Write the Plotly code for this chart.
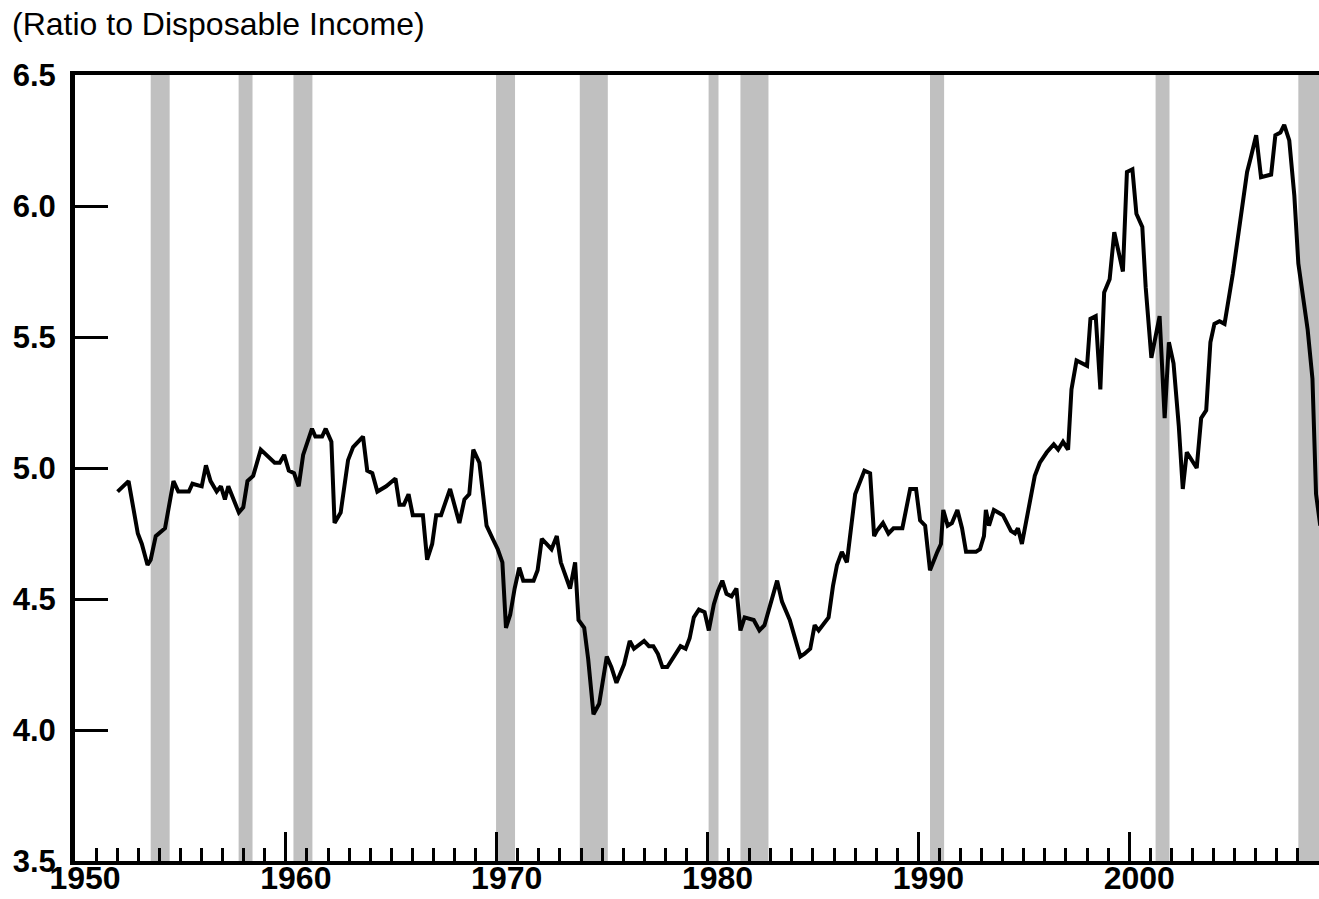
import plotly.graph_objects as go

# household net worth relative to disposable income
years = [
    1952.02, 1952.54, 1952.98, 1953.17, 1953.44, 1953.59, 1953.83, 1954.27, 1954.67, 1954.90,
    1955.40, 1955.57, 1956.01, 1956.21, 1956.43, 1956.72, 1956.92, 1957.11, 1957.27, 1957.51,
    1957.77, 1957.98, 1958.18, 1958.45, 1958.81, 1959.47, 1959.71, 1959.92, 1960.14, 1960.39,
    1960.61, 1960.82, 1961.24, 1961.40, 1961.72, 1961.89, 1962.16, 1962.31, 1962.60, 1962.95,
    1963.19, 1963.66, 1963.86, 1964.10, 1964.34, 1964.76, 1965.20, 1965.39, 1965.60, 1965.82,
    1966.02, 1966.50, 1966.70, 1966.94, 1967.13, 1967.36, 1967.79, 1968.23, 1968.47, 1968.70,
    1968.89, 1969.18, 1969.52, 1969.81, 1970.05, 1970.27, 1970.44, 1970.64, 1970.85, 1971.07,
    1971.26, 1971.75, 1971.94, 1972.14, 1972.60, 1972.85, 1973.04, 1973.48, 1973.72, 1973.88,
    1974.15, 1974.34, 1974.59, 1974.86, 1975.22, 1975.44, 1975.68, 1976.04, 1976.31, 1976.51,
    1976.99, 1977.22, 1977.43, 1977.65, 1977.86, 1978.09, 1978.33, 1978.72, 1978.96, 1979.15,
    1979.35, 1979.59, 1979.86, 1980.06, 1980.30, 1980.49, 1980.70, 1980.90, 1981.14, 1981.37,
    1981.56, 1981.76, 1982.19, 1982.46, 1982.70, 1983.30, 1983.53, 1983.90, 1984.40, 1984.59,
    1984.87, 1985.08, 1985.27, 1985.74, 1985.95, 1986.14, 1986.37, 1986.61, 1987.00, 1987.44,
    1987.71, 1987.90, 1988.03, 1988.32, 1988.58, 1988.82, 1989.24, 1989.61, 1989.89, 1990.08,
    1990.32, 1990.55, 1990.90, 1991.07, 1991.18, 1991.39, 1991.59, 1991.85, 1992.07, 1992.26,
    1992.73, 1992.92, 1993.11, 1993.20, 1993.35, 1993.58, 1994.01, 1994.39, 1994.58, 1994.72,
    1994.91, 1995.29, 1995.52, 1995.76, 1996.09, 1996.42, 1996.63, 1996.86, 1997.10, 1997.26,
    1997.50, 1998.00, 1998.16, 1998.41, 1998.63, 1998.81, 1999.07, 1999.29, 1999.70, 1999.89,
    2000.15, 2000.34, 2000.62, 2000.78, 2001.05, 2001.44, 2001.68, 2001.88, 2002.10, 2002.35,
    2002.54, 2002.73, 2003.20, 2003.41, 2003.65, 2003.85, 2004.04, 2004.28, 2004.52, 2004.91,
    2005.14, 2005.38, 2005.59, 2005.78, 2006.02, 2006.25, 2006.73, 2006.93, 2007.17, 2007.35,
    2007.59, 2007.83, 2008.02, 2008.46, 2008.69, 2008.86, 2009.06,
]
ratio = [
    4.91, 4.95, 4.75, 4.71, 4.63, 4.65, 4.74, 4.77, 4.95, 4.91,
    4.91, 4.94, 4.93, 5.01, 4.95, 4.91, 4.93, 4.88, 4.93, 4.88,
    4.83, 4.85, 4.95, 4.97, 5.07, 5.02, 5.02, 5.05, 4.99, 4.98,
    4.93, 5.05, 5.15, 5.12, 5.12, 5.15, 5.10, 4.79, 4.83, 5.03,
    5.08, 5.12, 4.99, 4.98, 4.91, 4.93, 4.96, 4.86, 4.86, 4.90,
    4.82, 4.82, 4.65, 4.71, 4.82, 4.82, 4.92, 4.79, 4.88, 4.90,
    5.07, 5.02, 4.78, 4.73, 4.69, 4.64, 4.39, 4.44, 4.54, 4.62,
    4.57, 4.57, 4.61, 4.73, 4.69, 4.74, 4.64, 4.54, 4.64, 4.42,
    4.39, 4.27, 4.06, 4.10, 4.28, 4.24, 4.18, 4.25, 4.34, 4.31,
    4.34, 4.32, 4.32, 4.29, 4.24, 4.24, 4.27, 4.32, 4.31, 4.35,
    4.43, 4.46, 4.45, 4.38, 4.48, 4.53, 4.57, 4.52, 4.51, 4.54,
    4.38, 4.43, 4.42, 4.38, 4.40, 4.57, 4.49, 4.42, 4.28, 4.29,
    4.31, 4.40, 4.38, 4.43, 4.55, 4.63, 4.68, 4.64, 4.90, 4.99,
    4.98, 4.74, 4.76, 4.79, 4.75, 4.77, 4.77, 4.92, 4.92, 4.80,
    4.78, 4.61, 4.68, 4.71, 4.84, 4.78, 4.79, 4.84, 4.77, 4.68,
    4.68, 4.69, 4.74, 4.84, 4.78, 4.84, 4.82, 4.76, 4.75, 4.77,
    4.71, 4.88, 4.97, 5.02, 5.06, 5.09, 5.07, 5.10, 5.07, 5.30,
    5.41, 5.39, 5.57, 5.58, 5.30, 5.67, 5.72, 5.90, 5.75, 6.13,
    6.14, 5.97, 5.92, 5.69, 5.42, 5.58, 5.19, 5.48, 5.40, 5.16,
    4.92, 5.06, 5.00, 5.19, 5.22, 5.48, 5.55, 5.56, 5.55, 5.74,
    5.88, 6.00, 6.13, 6.19, 6.27, 6.11, 6.12, 6.27, 6.28, 6.31,
    6.25, 6.04, 5.78, 5.53, 5.34, 4.90, 4.78,
]

# recession periods (shaded)
rec_start = [1953.59, 1957.76, 1960.36, 1969.97, 1973.94, 1980.05, 1981.56, 1990.55, 2001.25, 2008.02]
rec_end = [1954.49, 1958.42, 1961.26, 1970.87, 1975.27, 1980.52, 1982.89, 1991.22, 2001.91, 2009.50]

y_ticks = [3.5, 4.0, 4.5, 5.0, 5.5, 6.0, 6.5]
x_range = [1950, 2009]

fig = go.Figure()

for s, e in zip(rec_start, rec_end):
    fig.add_shape(type="rect", xref="x", yref="paper",
                  x0=s, x1=min(e, x_range[1]), y0=0, y1=1,
                  fillcolor="#c0c0c0", line_width=0, layer="below")

fig.add_trace(go.Scatter(x=years, y=ratio, mode="lines",
                         line=dict(color="black", width=4),
                         showlegend=False, hoverinfo="x+y"))

font_family = "Liberation Sans, Arial, sans-serif"

fig.update_layout(
    width=1319, height=899,
    margin=dict(l=75, r=0, t=75, b=38),
    plot_bgcolor="white", paper_bgcolor="white",
    title=dict(text="(Ratio to Disposable Income)", x=12 / 1319, xanchor="left",
               y=1 - 24 / 899, yanchor="middle",
               font=dict(family=font_family, size=32, color="black")),
)

fig.update_xaxes(
    range=x_range, tick0=1950, dtick=10,
    ticks="inside", ticklen=29, tickwidth=3, tickcolor="black",
    minor=dict(dtick=1, ticks="inside", ticklen=13, tickwidth=3, tickcolor="black"),
    showline=True, linewidth=4, linecolor="black", mirror=True,
    showgrid=False, zeroline=False,
    ticklabelshift=10, ticklabelstandoff=-14,
    tickfont=dict(family=font_family, size=32, color="black", weight="bold"),
)

fig.update_yaxes(
    range=[y_ticks[0], y_ticks[-1]], tickvals=y_ticks, tickformat=".1f",
    ticks="inside", ticklen=33, tickwidth=3, tickcolor="black",
    showline=True, linewidth=5, linecolor="black",
    showgrid=False, zeroline=False, ticklabelstandoff=8,
    tickfont=dict(family=font_family, size=31, color="black", weight="bold"),
)

# drop the default page margin so the figure sits at the window's corner
fig.write_html("out.html", config={"displayModeBar": False},
               post_script="document.body.style.margin='0';")
